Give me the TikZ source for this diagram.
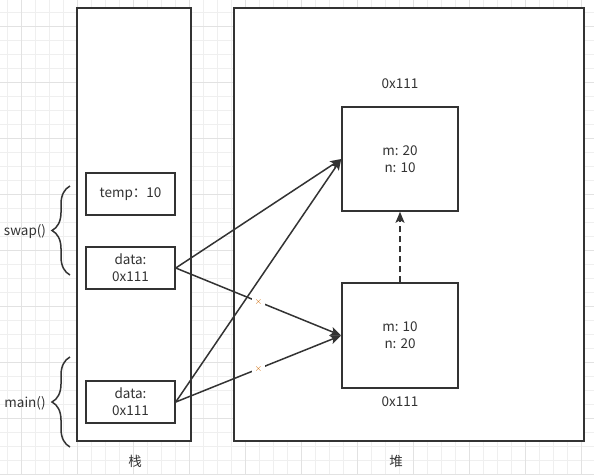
\documentclass[tikz,border=0pt]{standalone}
\usepackage{fontspec}
\setmainfont{Noto Sans CJK SC}
\usepackage{tikz}
\usetikzlibrary{arrows.meta,positioning,decorations.pathreplacing}
\definecolor{ink}{HTML}{333333}
\definecolor{gridminor}{HTML}{EFEFEF}
\definecolor{gridmajor}{HTML}{E2E2E2}

\begin{document}
\begin{tikzpicture}[x=1pt, y=-1pt,
    box/.style={draw=ink, line width=1.5pt, fill=white, minimum width=#1, align=center, inner sep=0pt, text=ink, font=\fontsize{13.5}{17}\selectfont},
    lbl/.style={text=ink, font=\fontsize{13.5}{17}\selectfont},
    arr/.style={-{Stealth[length=11pt, width=9pt, inset=2.5pt]}, line width=1.5pt, draw=ink},
    xmark/.style={fill=white, inner sep=2.5pt, text=orange!80!black, font=\fontsize{10}{10}\selectfont}]

  \useasboundingbox (0,0) rectangle (594,474);

  % Background grid
  \foreach \gx in {7,21,...,594} \draw[gridminor, line width=0.7pt] (\gx,0) -- (\gx,474);
  \foreach \gy in {12,26,...,474} \draw[gridminor, line width=0.7pt] (0,\gy) -- (594,\gy);
  \foreach \gx in {21,77,...,594} \draw[gridmajor, line width=0.8pt] (\gx,0) -- (\gx,474);
  \foreach \gy in {26,82,...,474} \draw[gridmajor, line width=0.8pt] (0,\gy) -- (594,\gy);

  % Stack and heap
  \node[box=114pt, minimum height=433pt] (stack) at (134,224.5) {};
  \node[box=350pt, minimum height=433pt] (heap) at (409,224.5) {};
  \node[lbl] (stacklbl) at (135,461) {栈};
  \node[lbl] (heaplbl) at (396,461) {堆};

  % Stack frames
  \node[box=89pt, minimum height=42pt] (temp) at (130.5,194) {temp：10};
  \node[box=89pt, minimum height=42pt] (swapdata) at (130.5,268) {data:\\0x111};
  \node[box=89pt, minimum height=42pt] (maindata) at (130.5,402) {data:\\0x111};

  % Heap objects
  \node[box=116pt, minimum height=104pt] (objnew) at (400,159) {m: 20\\n: 10};
  \node[box=116pt, minimum height=105pt] (objold) at (400,335.5) {m: 10\\n: 20};
  \node[lbl] (addrnew) at (400,84) {0x111};
  \node[lbl] (addrold) at (400,402) {0x111};

  % Frame braces
  \draw[ink, line width=1.5pt, decorate, decoration={brace, amplitude=18pt}] (70,275) -- (70,186);
  \draw[ink, line width=1.5pt, decorate, decoration={brace, amplitude=18pt}] (70,447) -- (70,357);
  \node[lbl] (swaplbl) at (25,232) {swap()};
  \node[lbl] (mainlbl) at (25,403) {main()};

  % References
  \draw[arr] (swapdata.east) -- (objnew.west);
  \draw[arr] (maindata.east) -- (objnew.west);
  \draw[arr] (swapdata.east) -- node[xmark] (xswap) {$\times$} (objold.west);
  \draw[arr] (maindata.east) -- node[xmark] (xmain) {$\times$} (objold.west);
  \draw[arr, dash pattern=on 6pt off 4pt] (objold.north) -- (objnew.south);
\end{tikzpicture}
\end{document}
